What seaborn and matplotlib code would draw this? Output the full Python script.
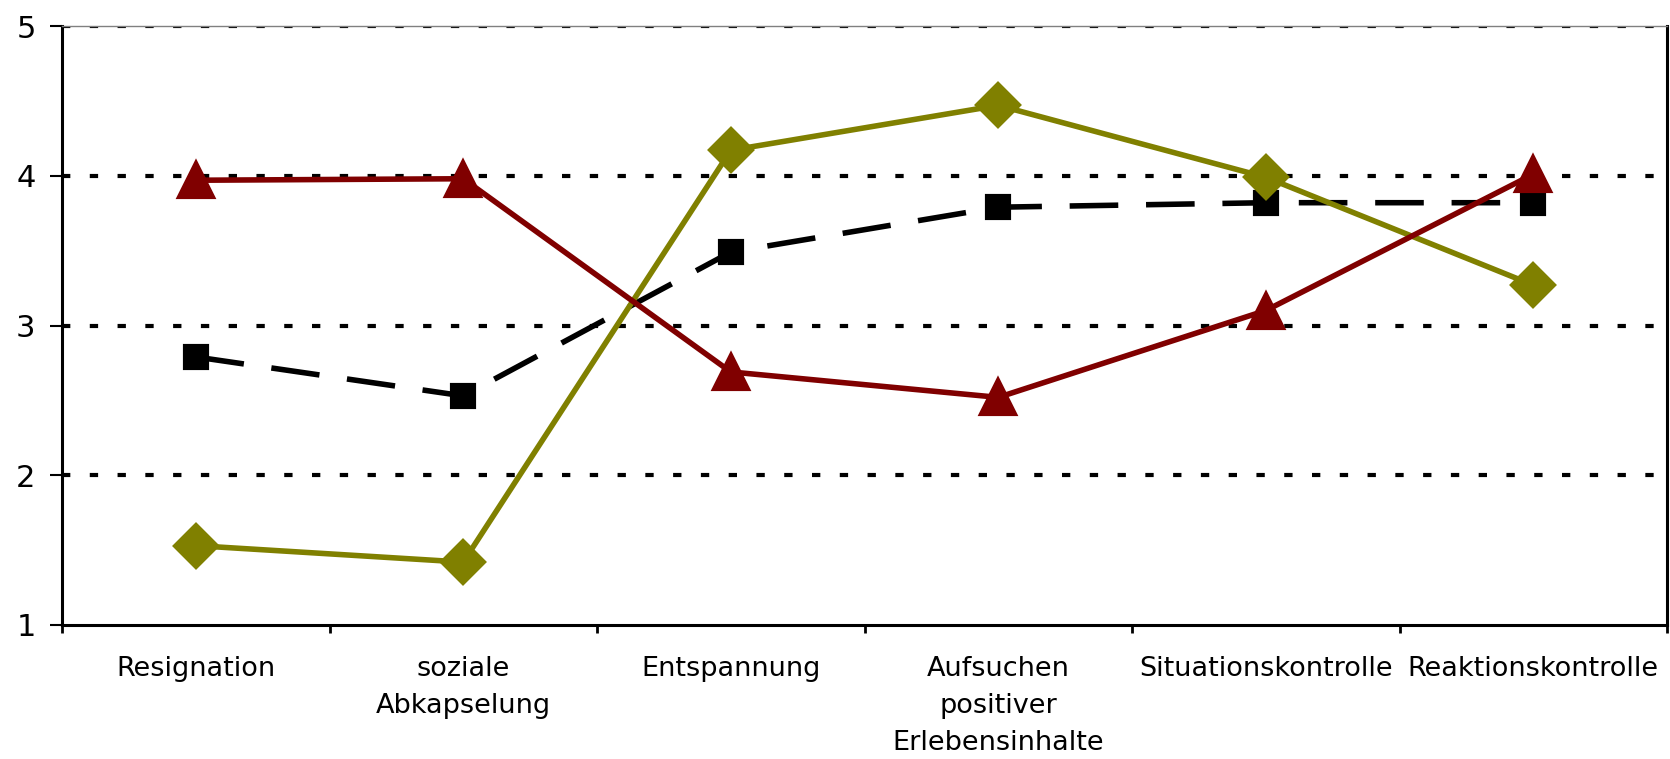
import numpy as np
import matplotlib
matplotlib.use("Agg")
import matplotlib.pyplot as plt
import seaborn as sns

sns.set_style("white")
plt.rcParams['font.family'] = ['DejaVu Sans']
plt.rcParams['lines.scale_dashes'] = False

# Daten
categories = ["Resignation", "soziale\nAbkapselung", "Entspannung",
              "Aufsuchen\npositiver\nErlebensinhalte", "Situationskontrolle",
              "Reaktionskontrolle"]
mittel = [2.79, 2.53, 3.49, 3.79, 3.82, 3.82]
gruppe_oliv = [1.53, 1.42, 4.17, 4.47, 3.99, 3.27]
gruppe_rot = [3.97, 3.98, 2.69, 2.52, 3.10, 4.01]
y_ticks = [1, 2, 3, 4, 5]

fig = plt.figure(figsize=(16.7, 7.59), dpi=100)
ax = fig.add_axes([62 / 1670, 1 - 625 / 759, 1605 / 1670, 599 / 759])

# schwarze gestrichelte Linie
n0 = len(ax.lines)
sns.pointplot(x=categories, y=mittel, color="black", markers="s",
              linestyles="-", markersize=16, linewidth=4,
              errorbar=None, ax=ax)
for ln in ax.lines[n0:]:
    ln.set_dashes((35, 20))
    ln.set_zorder(3)

n0 = len(ax.lines)
sns.pointplot(x=categories, y=gruppe_oliv, color="#808000", markers="D",
              linestyles="-", markersize=21, linewidth=4,
              errorbar=None, ax=ax)
for ln in ax.lines[n0:]:
    ln.set_zorder(4)

n0 = len(ax.lines)
sns.pointplot(x=categories, y=gruppe_rot, color="#800000", markers="^",
              linestyles="-", markersize=25, linewidth=4,
              errorbar=None, ax=ax)
for ln in ax.lines[n0:]:
    ln.set_zorder(5)

# Achsen
ax.set_ylim(1, 5)
ax.set_xlim(-0.5, 5.5)
ax.set_yticks(y_ticks)
ax.set_yticklabels([str(t) for t in y_ticks], fontsize=22, color="black")
ax.set_xticks(np.arange(-0.5, 6, 1))
ax.set_xticklabels([""] * 7)
ax.set_xticks(range(len(categories)), minor=True)
ax.set_xticklabels(categories, minor=True, fontsize=19.5, linespacing=1.55,
                   va="top", ha="center", color="black")
ax.tick_params(axis="x", which="major", direction="out", length=6, width=2,
               color="black", bottom=True)
ax.tick_params(axis="x", which="minor", length=0, pad=22, bottom=True)
ax.tick_params(axis="y", direction="out", length=9, width=1.5,
               color="black", pad=10, left=True)
ax.set_xlabel("")
ax.set_ylabel("")

ax.grid(False)
ax.yaxis.grid(True, color="black", linewidth=3, dashes=(6, 14))
ax.yaxis.get_gridlines()[0].set_visible(False)
ax.set_axisbelow(True)

for side in ["left", "bottom", "right"]:
    ax.spines[side].set_color("black")
    ax.spines[side].set_linewidth(2.2)
ax.spines["top"].set_color("#808080")
ax.spines["top"].set_linewidth(1)

fig.savefig("out.png", dpi=100)
